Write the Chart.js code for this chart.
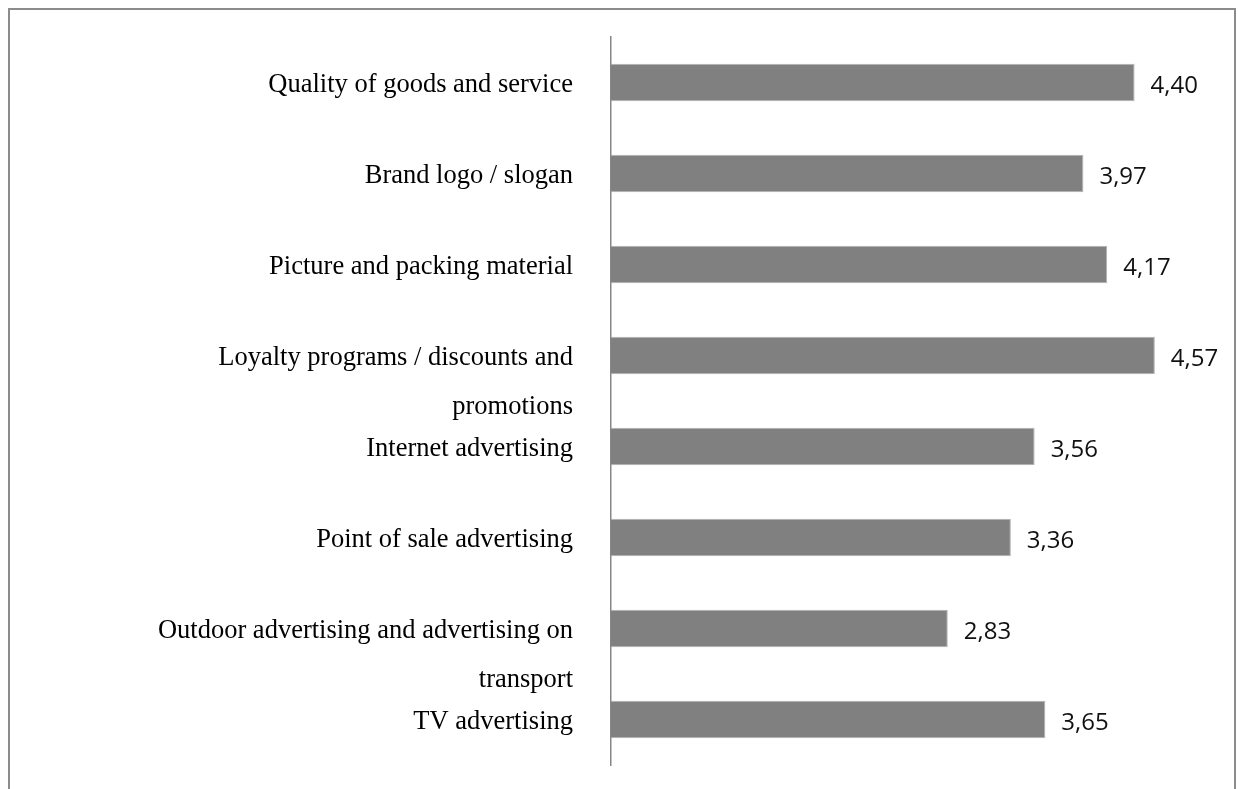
<!DOCTYPE html>
<html>
<head>
<meta charset="utf-8">
<script src="https://cdn.jsdelivr.net/npm/chart.js@4"></script>
<style>
  html, body { margin: 0; padding: 0; background: #fff; overflow: hidden; }
  #frame {
    position: absolute; left: 8px; top: 8px; width: 1224px; height: 800px;
    border: 2px solid #8c8c8c; border-bottom: none;
  }
  #wrap { position: absolute; left: 0; top: 0; width: 1238px; height: 789px; }
</style>
</head>
<body>
<div id="frame"></div>
<div id="wrap"><canvas id="factorChart" width="1238" height="789"></canvas></div>
<script>
// factor labels, top to bottom
var factorLabels = [
  "Quality of goods and service",
  "Brand logo / slogan",
  "Picture and packing material",
  ["", "Loyalty programs / discounts and", "promotions"],
  "Internet advertising",
  "Point of sale advertising",
  ["", "Outdoor advertising and advertising on", "transport"],
  "TV advertising"
];
var factorScores = [4.40, 3.97, 4.17, 4.57, 3.56, 3.36, 2.83, 3.65];

// value text next to each bar, decimal comma
const valueLabels = {
  id: 'valueLabels',
  afterDatasetsDraw(chart) {
    const ctx = chart.ctx;
    const meta = chart.getDatasetMeta(0);
    ctx.save();
    ctx.font = '24px "Open Sans"';
    ctx.fillStyle = '#111';
    ctx.textAlign = 'left';
    ctx.textBaseline = 'middle';
    meta.data.forEach(function(bar, i){
      var txt = factorScores[i].toFixed(2).replace('.', ',');
      ctx.fillText(txt, bar.x + 16, bar.y + 4);
    });
    ctx.restore();
  }
};

const ctx = document.getElementById('factorChart').getContext('2d');

new Chart(ctx, {
  type: 'bar',
  data: {
    labels: factorLabels,
    datasets: [{
      data: factorScores,
      backgroundColor: '#808080',
      borderColor: '#b3b3b3',
      borderWidth: 1,
      borderSkipped: 'left',
      barPercentage: 0.41,
      categoryPercentage: 1
    }]
  },
  options: {
    indexAxis: 'y',
    responsive: false,
    animation: false,
    layout: { padding: { top: 37, bottom: 24, left: 0, right: 32 } },
    plugins: {
      legend: { display: false },
      tooltip: { enabled: false }
    },
    scales: {
      x: {
        min: 0,
        max: 5,
        display: false,
        grid: { display: false }
      },
      y: {
        grid: { display: false },
        border: { display: true, color: '#868686', width: 1.5 },
        afterFit: function(scale){
          scale.width = 611;
          scale.paddingTop = 0;
          scale.paddingBottom = 0;
        },
        ticks: {
          autoSkip: false,
          padding: 30,
          labelOffset: 3,
          color: '#000',
          font: { family: '"Liberation Serif", "Times New Roman", serif', size: 26.5, lineHeight: 1.82 }
        }
      }
    }
  },
  plugins: [valueLabels]
});
</script>
</body>
</html>
